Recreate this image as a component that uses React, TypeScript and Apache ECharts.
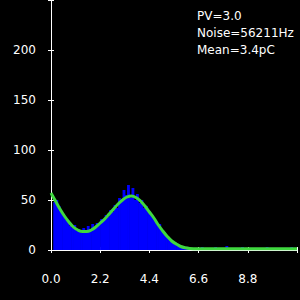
import React, { useEffect, useRef } from "react";
import * as echarts from "echarts";

const binWidth = 0.1;
const counts: number[] = [
  0, 48, 50, 44, 38, 35, 30, 28, 24, 22,
  25, 19, 20, 17, 22, 18, 24, 21, 26, 22,
  27, 25, 31, 30, 35, 33, 40, 38, 45, 42,
  52, 48, 60, 55, 65, 52, 62, 50, 56, 47,
  50, 42, 44, 38, 36, 33, 30, 25, 26, 20,
  18, 14, 12, 9, 8, 5, 6, 3, 4, 2,
  3, 1, 2, 1, 0, 2, 1, 3, 0, 1,
  2, 1, 0, 3, 1, 2, 0, 1, 4, 1,
  0, 2, 1, 0, 1, 3, 0, 2, 1, 0,
  1, 0, 2, 1, 0, 1, 3, 0, 1, 2,
  0, 1, 0, 2, 1, 0, 1, 3, 1, 0,
];

const fitX: number[] = [
  0, 0.2, 0.4, 0.6, 0.8, 1.0, 1.2, 1.4, 1.6, 1.8, 2.0, 2.2, 2.4, 2.6, 2.8,
  3.0, 3.2, 3.4, 3.6, 3.8, 4.0, 4.2, 4.4, 4.6, 4.8, 5.0, 5.2, 5.4, 5.6, 5.8,
  6.0, 6.2, 6.6, 7.5, 9.0, 11.0,
];
const fitY: number[] = [
  57, 49, 41, 34, 28, 23, 20, 18.5, 18.5, 20, 23, 27, 31, 36, 41,
  46, 50, 53, 54, 52.5, 49, 44, 38, 32, 25, 19, 13.5, 9, 6, 3.5,
  2.2, 1.6, 1.3, 1.2, 1.2, 1.2,
];

const infoLines: string[] = ["PV=3.0", "Noise=56211Hz", "Mean=3.4pC"];

export default function App() {
  const ref = useRef<HTMLDivElement>(null);
  useEffect(() => {
    if (!ref.current) return;
    const chart = echarts.init(ref.current, null, { renderer: "svg" });
    const histData = counts.map((c, i) => [i * binWidth, (i + 1) * binWidth, c]);
    const fitData = fitX.map((x, i) => [x, fitY[i]]);
    const font = "DejaVu Sans";
    const xBase = {
      type: "value" as const,
      min: 0,
      max: 11,
      interval: 2.2,
      splitLine: { show: false },
    };
    const yBase = {
      type: "value" as const,
      min: 0,
      max: 250,
      interval: 50,
      splitLine: { show: false },
    };
    chart.setOption({
      animation: false,
      backgroundColor: "#000000",
      grid: { left: 51, top: 0, right: 0, bottom: 50 },
      xAxis: [
        {
          ...xBase,
          axisLine: { show: true, lineStyle: { color: "#ffffff", width: 1 } },
          axisTick: { show: true, length: 3, lineStyle: { color: "#ffffff" } },
          axisLabel: {
            color: "#ffffff",
            fontFamily: font,
            fontSize: 12,
            margin: 23,
            formatter: (v: number) => (v > 10.5 ? "" : v.toFixed(1)),
          },
        },
        {
          ...xBase,
          position: "bottom",
          axisLine: { show: false },
          axisTick: { show: true, inside: true, length: 3, lineStyle: { color: "#ffffff" } },
          axisLabel: { show: false },
        },
      ],
      yAxis: [
        {
          ...yBase,
          axisLine: { show: true, lineStyle: { color: "#ffffff", width: 1 } },
          axisTick: { show: true, length: 3, lineStyle: { color: "#ffffff" } },
          axisLabel: {
            color: "#ffffff",
            fontFamily: font,
            fontSize: 12,
            margin: 15,
            formatter: (v: number) => (v > 225 ? "" : String(v)),
          },
        },
        {
          ...yBase,
          position: "left",
          axisLine: { show: false },
          axisTick: { show: true, inside: true, length: 3, lineStyle: { color: "#ffffff" } },
          axisLabel: { show: false },
        },
      ],
      series: [
        {
          type: "custom",
          data: histData,
          encode: { x: [0, 1], y: 2 },
          renderItem: (params: any, api: any) => {
            const p0 = api.coord([api.value(0), api.value(2)]);
            const p1 = api.coord([api.value(1), 0]);
            return {
              type: "rect",
              shape: {
                x: p0[0],
                y: p0[1],
                width: p1[0] - p0[0] + 0.6,
                height: p1[1] - p0[1],
              },
              style: { fill: "#0000ff" },
            };
          },
          z: 1,
        },
        {
          type: "line",
          data: fitData,
          smooth: 0.4,
          showSymbol: false,
          lineStyle: { color: "#3fd83f", width: 3 },
          z: 3,
        },
      ],
      graphic: infoLines.map((t, i) => ({
        type: "text",
        left: 197,
        top: 10 + i * 17,
        style: { text: t, fill: "#ffffff", font: `12px "${font}"` },
      })),
    });
    return () => chart.dispose();
  }, []);
  return (
    <div
      ref={ref}
      style={{ position: "fixed", left: 0, top: 0, width: 300, height: 300, background: "#000" }}
    />
  );
}
